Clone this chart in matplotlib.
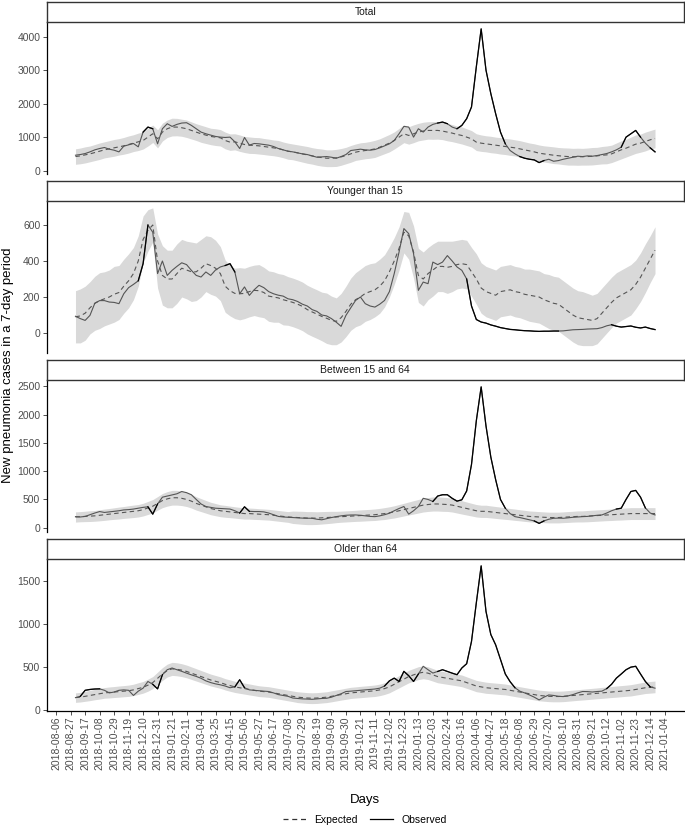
import numpy as np
import pandas as pd
import matplotlib
matplotlib.use('Agg')
import matplotlib.pyplot as plt
import matplotlib.dates as mdates
from matplotlib.lines import Line2D
from matplotlib.ticker import MultipleLocator

plt.rcParams['font.family'] = ['Liberation Sans', 'DejaVu Sans']

# weekly points, 2018-09-03 .. 2020-12-21
dates = pd.date_range('2018-09-03', periods=121, freq='7D')

panels = ['Total', 'Younger than 15', 'Between 15 and 64', 'Older than 64']

total_obs = [460, 480, 510, 560, 620, 660, 690, 640, 610, 560,
             730, 770, 810, 710, 1150, 1300, 1250, 800, 1250, 1400,
             1320, 1380, 1420, 1430, 1350, 1250, 1150, 1100, 1060, 1020,
             1000, 990, 1000, 860, 660, 990, 760, 810, 800, 780,
             760, 720, 660, 620, 580, 560, 530, 500, 480, 440,
             400, 410, 420, 400, 370, 420, 480, 600, 620, 640,
             620, 610, 630, 680, 740, 800, 900, 1100, 1320, 1300,
             1000, 1250, 1150, 1300, 1380, 1420, 1450, 1400, 1300, 1250,
             1350, 1550, 1900, 3100, 4230, 3000, 2300, 1700, 1150, 800,
             600, 500, 420, 370, 340, 320, 240, 300, 340, 280,
             300, 340, 370, 400, 430, 420, 440, 430, 450, 480,
             510, 560, 620, 700, 1000, 1100, 1200, 1000, 820, 680,
             560]
total_exp = [420, 440, 470, 500, 540, 580, 620, 650, 680, 710,
             740, 780, 820, 860, 900, 1000, 1100, 950, 1150, 1250,
             1300, 1300, 1280, 1250, 1200, 1150, 1100, 1060, 1020, 1000,
             980, 900, 850, 860, 820, 780, 760, 750, 740, 720,
             700, 680, 660, 620, 580, 560, 530, 500, 470, 440,
             410, 390, 370, 370, 380, 410, 450, 500, 550, 580,
             600, 620, 650, 700, 760, 820, 900, 1000, 1100, 1050,
             1100, 1150, 1180, 1200, 1200, 1200, 1180, 1150, 1120, 1080,
             1050, 1000, 950, 850, 820, 800, 780, 760, 740, 720,
             700, 680, 650, 620, 590, 560, 520, 500, 480, 460,
             445, 430, 420, 415, 415, 415, 420, 430, 440, 460,
             470, 500, 560, 620, 670, 730, 790, 820, 870, 920,
             960]
total_hw = [230, 235, 240, 235, 240, 245, 240, 245, 250, 245,
            250, 255, 250, 260, 255, 265, 260, 270, 265, 260,
            265, 260, 255, 260, 255, 250, 255, 250, 245, 250,
            245, 250, 245, 240, 245, 240, 245, 240, 245, 240,
            240, 235, 240, 235, 240, 235, 240, 245, 250, 245,
            250, 255, 250, 250, 255, 250, 245, 250, 245, 250,
            245, 250, 255, 250, 255, 260, 255, 260, 265, 260,
            265, 260, 265, 260, 265, 260, 255, 260, 255, 250,
            255, 250, 245, 250, 245, 240, 245, 240, 245, 240,
            245, 240, 245, 240, 235, 240, 245, 240, 245, 250,
            245, 250, 255, 250, 255, 250, 255, 260, 255, 260,
            265, 260, 265, 270, 265, 270, 275, 270, 280, 275,
            280]

young_obs = [93, 80, 70, 98, 165, 180, 180, 172, 170, 163,
             218, 252, 270, 290, 385, 600, 560, 330, 400, 320,
             348, 370, 390, 380, 348, 320, 311, 339, 320, 350,
             367, 375, 385, 339, 218, 256, 209, 240, 265, 252,
             230, 218, 210, 205, 190, 185, 175, 160, 150, 130,
             120, 100, 95, 80, 60, 37, 98, 140, 181, 200,
             163, 150, 144, 160, 181, 230, 330, 450, 580, 552,
             441, 237, 283, 274, 394, 380, 394, 430, 400, 367,
             348, 300, 150, 75, 61, 55, 45, 38, 30, 25,
             20, 18, 15, 13, 12, 10, 9, 10, 10, 11,
             11, 12, 15, 18, 19, 20, 22, 23, 24, 30,
             40, 46, 38, 33, 36, 39, 32, 28, 33, 25,
             19]
young_exp = [90, 95, 110, 140, 165, 180, 190, 200, 215, 225,
             260, 290, 330, 400, 520, 570, 600, 400, 320, 300,
             300, 330, 360, 350, 340, 340, 360, 385, 375, 360,
             330, 260, 235, 220, 218, 220, 230, 237, 235, 225,
             205, 200, 195, 185, 178, 170, 160, 148, 130, 117,
             105, 92, 82, 70, 65, 85, 120, 160, 185, 200,
             220, 230, 240, 260, 290, 340, 400, 470, 560, 540,
             450, 320, 300, 330, 350, 370, 370, 365, 370, 380,
             385, 380, 340, 300, 250, 230, 220, 210, 230, 235,
             240, 230, 225, 215, 210, 205, 200, 185, 175, 165,
             160, 140, 120, 100, 85, 80, 75, 70, 80, 110,
             140, 170, 195, 210, 225, 240, 270, 310, 360, 410,
             460]
young_hw = [145, 150, 150, 145, 150, 155, 150, 150, 155, 150,
            150, 150, 145, 140, 130, 115, 95, 150, 165, 160,
            160, 165, 160, 160, 165, 160, 160, 155, 160, 155,
            150, 145, 140, 140, 145, 140, 140, 140, 145, 140,
            140, 140, 135, 140, 135, 135, 135, 135, 135, 135,
            135, 135, 140, 135, 130, 135, 140, 145, 150, 155,
            155, 155, 150, 150, 145, 140, 130, 120, 115, 130,
            145, 150, 150, 145, 145, 140, 140, 145, 140, 135,
            135, 135, 135, 140, 140, 140, 140, 140, 140, 140,
            140, 140, 140, 140, 145, 145, 145, 145, 150, 150,
            150, 150, 150, 150, 150, 150, 145, 140, 140, 140,
            140, 140, 140, 140, 140, 140, 135, 135, 135, 130,
            130]

mid_obs = [196, 190, 200, 230, 260, 286, 270, 280, 290, 300,
           315, 320, 330, 345, 360, 370, 240, 420, 540, 560,
           580, 600, 640, 620, 583, 500, 420, 375, 360, 345,
           340, 335, 330, 300, 260, 370, 290, 286, 286, 280,
           260, 230, 200, 190, 185, 180, 175, 170, 168, 167,
           150, 140, 160, 180, 196, 210, 220, 225, 226, 220,
           210, 200, 196, 210, 230, 256, 300, 340, 375, 240,
           300, 375, 520, 500, 464, 560, 583, 583, 520, 470,
           494, 650, 1119, 1892, 2490, 1800, 1250, 850, 500, 345,
           250, 196, 180, 160, 140, 120, 77, 120, 150, 167,
           170, 167, 175, 185, 190, 196, 200, 210, 220, 226,
           260, 300, 330, 345, 500, 640, 660, 540, 350, 260,
           226]
mid_exp = [190, 195, 200, 205, 210, 220, 230, 240, 250, 260,
           270, 280, 290, 300, 320, 350, 380, 430, 480, 510,
           530, 530, 520, 500, 470, 430, 400, 370, 340, 320,
           300, 290, 280, 270, 260, 250, 250, 245, 240, 235,
           230, 220, 210, 200, 190, 185, 180, 175, 170, 170,
           170, 175, 180, 185, 190, 195, 200, 205, 210, 215,
           220, 225, 230, 240, 250, 265, 280, 300, 320, 340,
           360, 380, 400, 410, 420, 420, 415, 410, 400, 380,
           360, 340, 320, 300, 290, 290, 280, 270, 260, 250,
           240, 230, 220, 210, 200, 195, 190, 185, 180, 180,
           180, 185, 190, 195, 200, 200, 205, 210, 215, 220,
           225, 230, 235, 240, 245, 250, 250, 250, 250, 250,
           250]
mid_hw = [90, 90, 92, 95, 95, 98, 100, 100, 102, 105,
          105, 108, 110, 110, 112, 115, 118, 120, 125, 128,
          130, 130, 128, 125, 122, 118, 115, 112, 110, 108,
          105, 105, 102, 100, 100, 98, 98, 98, 96, 96,
          95, 95, 95, 95, 95, 110, 112, 115, 115, 115,
          112, 110, 108, 105, 100, 98, 98, 98, 98, 100,
          100, 100, 102, 102, 105, 105, 108, 110, 112, 115,
          118, 120, 122, 122, 125, 125, 125, 122, 122, 120,
          118, 115, 112, 110, 108, 108, 106, 105, 104, 102,
          100, 100, 98, 98, 96, 96, 95, 95, 95, 95,
          95, 95, 96, 96, 98, 98, 100, 100, 100, 100,
          100, 102, 102, 104, 104, 105, 105, 105, 105, 105,
          105]

old_obs = [145, 160, 230, 240, 245, 247, 230, 200, 210, 230,
           235, 230, 170, 220, 255, 333, 300, 247, 412, 470,
           490, 470, 451, 430, 410, 392, 370, 340, 320, 305,
           294, 280, 260, 270, 353, 260, 235, 230, 225, 220,
           216, 200, 180, 170, 160, 140, 135, 130, 128, 125,
           130, 135, 137, 150, 170, 190, 216, 220, 225, 230,
           235, 240, 245, 255, 280, 340, 372, 333, 451, 400,
           333, 420, 510, 470, 431, 450, 470, 450, 430, 412,
           490, 540, 800, 1250, 1680, 1150, 880, 760, 590, 420,
           330, 260, 220, 200, 176, 150, 118, 150, 176, 170,
           160, 157, 165, 180, 200, 216, 215, 210, 216, 220,
           250, 300, 372, 420, 470, 500, 510, 420, 333, 270,
           255]
old_exp = [145, 150, 160, 170, 180, 190, 200, 205, 210, 215,
           220, 225, 235, 250, 265, 290, 320, 370, 420, 460,
           480, 475, 465, 450, 430, 410, 390, 370, 350, 335,
           320, 300, 285, 270, 260, 250, 240, 230, 220, 215,
           210, 200, 190, 180, 170, 160, 150, 145, 140, 138,
           140, 145, 150, 160, 170, 180, 190, 200, 205, 210,
           215, 220, 225, 235, 250, 270, 300, 330, 360, 390,
           410, 430, 440, 430, 410, 390, 380, 370, 360, 350,
           340, 320, 300, 280, 270, 260, 255, 250, 245, 240,
           230, 220, 210, 200, 190, 180, 170, 165, 160, 158,
           158, 160, 165, 170, 175, 180, 185, 190, 195, 200,
           205, 210, 215, 220, 225, 230, 240, 250, 260, 265,
           270]
old_hw = [55, 56, 58, 60, 60, 62, 62, 64, 64, 65,
          65, 66, 66, 68, 68, 70, 70, 72, 74, 75,
          76, 76, 75, 74, 73, 72, 71, 70, 69, 68,
          67, 66, 66, 65, 65, 64, 64, 63, 63, 62,
          62, 62, 62, 62, 62, 62, 63, 63, 63, 63,
          63, 63, 63, 64, 64, 64, 65, 65, 65, 66,
          66, 66, 67, 67, 68, 69, 70, 71, 72, 73,
          74, 75, 75, 74, 73, 72, 71, 70, 69, 68,
          68, 67, 66, 66, 65, 65, 64, 64, 64, 63,
          63, 63, 62, 62, 62, 62, 62, 62, 62, 62,
          62, 62, 62, 62, 62, 63, 63, 63, 63, 64,
          64, 64, 65, 65, 65, 66, 66, 67, 67, 68,
          68]

series = [(total_obs, total_exp, total_hw),
          (young_obs, young_exp, young_hw),
          (mid_obs, mid_exp, mid_hw),
          (old_obs, old_exp, old_hw)]
y_steps = [1000, 200, 500, 500]

W, H = 685, 826
fig = plt.figure(figsize=(W / 100, H / 100), dpi=100)

left_px, right_px = 46.5, 684
strip_h, panel_h, gap = 20, 151.5, 7.5
tick_break = pd.date_range('2018-08-06', '2021-01-04', freq='21D')

span = dates[-1] - dates[0]
xlo, xhi = dates[0] - span * 0.05, dates[-1] + span * 0.05

for i, (name, (obs, exp, hw)) in enumerate(zip(panels, series)):
    obs = np.array(obs, float)
    exp = np.array(exp, float)
    hw = np.array(hw, float)
    lo, hi = exp - hw, exp + hw

    top = 2 + i * (strip_h + panel_h + gap)

    ax = fig.add_axes([left_px / W, 1 - (top + strip_h + panel_h) / H,
                       (right_px - left_px) / W, panel_h / H])
    ax.patch.set_alpha(0)
    ax.fill_between(dates, lo, hi, color='#d9d9d9', lw=0)
    ax.plot(dates, exp, color='#555555', lw=0.8, dashes=(4, 3))
    ax.plot(dates, obs, color='#555555', lw=0.8)
    # observed drawn darker where it leaves the band
    out = (obs > hi) | (obs < lo)
    ext = out | np.roll(out, 1) | np.roll(out, -1)
    ax.plot(dates, np.where(ext, obs, np.nan), color='black', lw=0.9)

    ymin = min(lo.min(), obs.min())
    ymax = max(hi.max(), obs.max())
    pad = 0.05 * (ymax - ymin)
    ax.set_ylim(ymin - pad, ymax + pad)
    ax.set_xlim(xlo, xhi)
    ax.yaxis.set_major_locator(MultipleLocator(y_steps[i]))

    for sp in ['top', 'right']:
        ax.spines[sp].set_visible(False)
    ax.spines['left'].set_color('black')
    ax.spines['left'].set_linewidth(0.9)
    ax.tick_params(axis='y', length=3, width=0.6, color='#333333',
                   labelsize=7.5, labelcolor='#4d4d4d', pad=1.5)
    if i < 3:
        ax.spines['bottom'].set_visible(False)
        ax.set_xticks([])
    else:
        ax.spines['bottom'].set_color('black')
        ax.spines['bottom'].set_linewidth(0.9)
        ax.set_xticks(tick_break)
        ax.xaxis.set_major_formatter(mdates.DateFormatter('%Y-%m-%d'))
        ax.tick_params(axis='x', length=3, width=0.6, color='#333333',
                       labelsize=7.5, labelcolor='#4d4d4d', pad=1.5,
                       labelrotation=90)

    # strip on top of the panel
    sax = fig.add_axes([left_px / W, 1 - (top + strip_h) / H,
                        (right_px - left_px) / W, strip_h / H])
    sax.set_facecolor('white')
    sax.set_xticks([])
    sax.set_yticks([])
    for sp in sax.spines.values():
        sp.set_linewidth(1.0)
        sp.set_color('#333333')
    sax.text(0.5, 0.5, name, ha='center', va='center', fontsize=7.5,
             color='#1a1a1a', transform=sax.transAxes)

fig.text(365 / W, 1 - 800 / H, 'Days', ha='center', va='center', fontsize=9.5)
fig.text(8 / W, 1 - 365 / H, 'New pneumonia cases in a 7-day period',
         ha='center', va='center', rotation=90, fontsize=9.5)

handles = [Line2D([], [], color='#333333', lw=0.9, dashes=(4, 3)),
           Line2D([], [], color='black', lw=0.9)]
fig.legend(handles, ['Expected', 'Observed'], loc='center',
           bbox_to_anchor=(365 / W, 1 - 820 / H), ncol=2, frameon=False,
           fontsize=7.5, handlelength=2.2, columnspacing=1.2, handletextpad=0.8)

fig.savefig('out.png', dpi=100, facecolor='white')
